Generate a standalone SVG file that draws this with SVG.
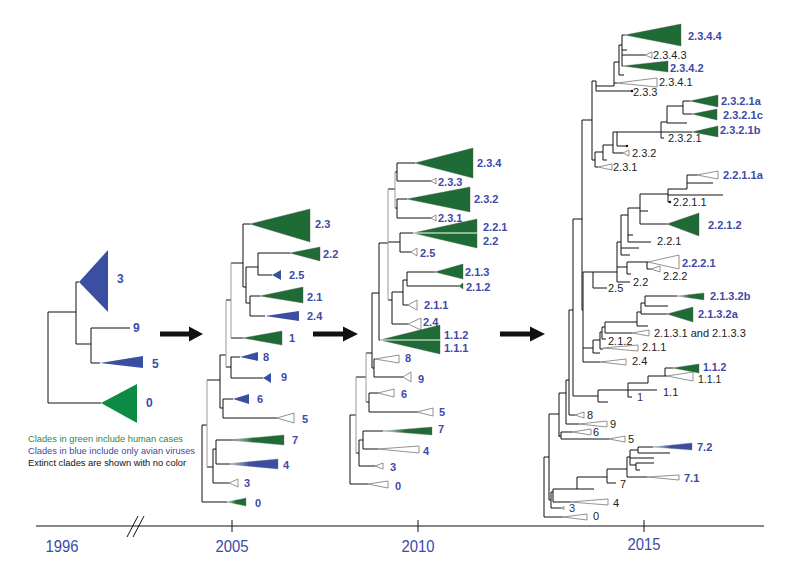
<svg xmlns="http://www.w3.org/2000/svg" width="794" height="563" viewBox="0 0 794 563">
<defs>
<linearGradient id="gG" x1="0" y1="0" x2="1" y2="0"><stop offset="0" stop-color="#e0e0e0"/><stop offset="0.45" stop-color="#1e6b36"/></linearGradient>
<linearGradient id="gB" x1="0" y1="0" x2="1" y2="0"><stop offset="0" stop-color="#e0e0e0"/><stop offset="0.45" stop-color="#3a4fa2"/></linearGradient>
<style>
.ln{fill:none;stroke:#111;stroke-width:1}
.lg{fill:none;stroke:#9a9a9a;stroke-width:1}
.gr{fill:#1e6b36;stroke:#555;stroke-width:0.4}
.gl{fill:#0d8a44}
.bl{fill:#3a4fa2}
.wh{fill:#fff;stroke:#777;stroke-width:0.8}
.gg{fill:url(#gG);stroke:#777;stroke-width:0.4}
.gb{fill:url(#gB);stroke:#777;stroke-width:0.4}
.b{font-family:"Liberation Sans",Arial,sans-serif;font-weight:bold;font-size:11px;fill:#3d4aa8}
.b12{font-family:"Liberation Sans",Arial,sans-serif;font-weight:bold;font-size:12px;fill:#3d4aa8}
.k{font-family:"Liberation Sans",Arial,sans-serif;font-size:11px;fill:#222}
.yr{font-family:"Liberation Sans",Arial,sans-serif;font-size:17px;fill:#3d4aa8}
.lgd{font-family:"Liberation Sans",Arial,sans-serif;font-size:9.5px}
.arr{fill:#111}
</style>
</defs>
<rect width="794" height="563" fill="#fff"/>

<!-- axis -->
<g id="axis">
<path class="ln" d="M36 526H764 M232 520V532 M418 520V532 M644 520V532" stroke-width="1.2"/>
<path class="ln" d="M127 537L138 516 M133 537L144 516"/>
<text class="yr" x="62" y="552" text-anchor="middle" textLength="33" lengthAdjust="spacingAndGlyphs">1996</text>
<text class="yr" x="232" y="552" text-anchor="middle" textLength="33" lengthAdjust="spacingAndGlyphs">2005</text>
<text class="yr" x="418" y="552" text-anchor="middle" textLength="33" lengthAdjust="spacingAndGlyphs">2010</text>
<text class="yr" x="644" y="550" text-anchor="middle" textLength="33" lengthAdjust="spacingAndGlyphs">2015</text>
</g>

<!-- legend -->
<g id="legend">
<text class="lgd" x="28" y="441.5" fill="#2a8a4a" textLength="155" lengthAdjust="spacingAndGlyphs">Clades in green include human cases</text>
<text class="lgd" x="28" y="453.5" fill="#3d4aa8" textLength="167" lengthAdjust="spacingAndGlyphs">Clades in blue include only avian viruses</text>
<text class="lgd" x="28" y="465.5" fill="#111" textLength="158" lengthAdjust="spacingAndGlyphs">Extinct clades are shown with no color</text>
</g>

<!-- arrows -->
<g id="arrows">
<path class="arr" d="M160 331.5H189V326.5L203 334L189 341.5V336.5H160Z"/>
<path class="arr" d="M313 331.5H343V326.5L358 334L343 341.5V336.5H313Z"/>
<path class="arr" d="M500 331.5H530V326.5L545 334L530 341.5V336.5H500Z"/>
</g>

<!-- connectors -->
<g id="connectors">
<path id="tree1996" class="ln" d="M48 312V403 M48 312H76 M76 282V344 M76 282H79 M76 344H91 M91 328V363 M91 328H130 M91 363H100 M48 403H101"/>
<path id="tree2005" class="ln" d="M202 425V502 M202 502H227 M202 425H207 M213 449V483 M213 483H229 M213 449H216 M216 440V464 M216 440H240 M216 464H230 M207 380H220 M220 355V408 M220 408H223 M223 399V418 M223 399H233 M223 418H277 M220 355H226 M226 367H231 M231 357V378 M231 357H240 M231 378H263 M226 300H231 M231 338H243 M231 263H243 M243 224V287 M243 224H250 M243 287H246 M246 267V303 M246 267H258 M258 253V275 M258 253H290 M258 275H272 M246 303H250 M250 296V316 M250 296H260 M250 316H265 M207 467H213"/>
<path class="lg" d="M207 380V467 M226 300V367 M231 263V338"/>
<path id="tree2010" class="ln" d="M350 415V484 M350 484H368 M350 415H356 M356 453H359 M359 440V466 M359 466H375 M359 440H363 M363 431V449 M363 431H383 M363 449H378 M356 377H366 M366 402H369 M369 393V412 M369 393H378 M369 412H417 M366 353H372 M372 368H374 M374 359V377 M374 359H375 M374 377H403 M372 293H379 M379 243V340 M379 340H380 M379 243H388 M388 189H395 M395 172H397 M397 163V181 M397 163H415 M397 181H431 M395 208H397 M397 199V218 M397 199H407 M397 218H431 M388 242H400 M400 233V252 M400 233H413 M400 252H411 M388 300H392 M392 292V324 M392 324H408 M392 292H403 M403 280V305 M403 305H408 M403 280H407 M407 272V286 M407 272H435 M407 286H459 M372 293V368"/>
<path class="lg" d="M356 377V453 M366 353V402 M388 189V300 M395 172V208"/>
<path id="tree2015" class="ln" d="M544 457V517 M544 517H563 M544 457H549 M549 414V500 M549 500H551 M551 492V508 M551 508H561 M551 492H553 M553 489V502 M553 502H570 M553 489H594 M577 477V489 M577 477H607 M607 469V483 M607 483H616 M607 469H627 M627 457V477 M627 477H647 M627 457H630 M630 450V465 M630 450H638 M638 447V453 M638 447H653 M638 453H670 M630 458H654 M630 465H636 M636 463V470 M636 463H654 M636 470H640 M549 414H559 M559 393V437 M559 436H561 M561 432V439 M561 432H572 M561 439H609 M559 393H566 M566 380V424 M566 424H579 M566 380H569 M569 310V415 M569 415H575 M569 310H573 M573 219V396 M573 396H598 M598 390V402 M598 390H628 M598 402H608 M628 383V397 M628 383H648 M628 390H657 M628 397H632 M648 376V383 M648 376H667 M665 368V376 M665 368H673 M573 219H582 M582 120V310 M582 310H583 M583 272V362 M583 362H600 M583 348H593 M593 340V353 M593 353H600 M593 340H600 M600 332V349 M600 349H603 M600 332H602 M602 327V339 M602 339H606 M602 327H605 M605 322V333 M605 333H632 M605 322H637 M637 312V326 M637 326H648 M637 312H641 M641 303V314 M641 314H667 M641 303H645 M645 296V306 M645 296H677 M645 306H668 M583 272H593 M593 272V288 M593 288H607 M593 272H617 M617 242V282 M617 282H630 M617 267H627 M627 262V274 M627 274H631 M627 262H648 M647 262V269 M647 269H651 M617 242H621 M621 215V255 M621 255H630 M621 248H639 M621 215H628 M628 208V242 M628 242H651 M628 235H633 M628 208H640 M640 194V224 M640 224H667 M640 211H648 M640 194H668 M668 189V202 M668 202H670 M668 195H723 M668 189H687 M687 175V189 M687 175H697 M687 183H713 M582 120H592 M592 81V160 M592 160H595 M595 152V167 M595 167H598 M595 152H603 M603 145V160 M603 160H607 M603 145H613 M613 132V153 M613 153H623 M617 132V146 M617 146H627 M613 132H692 M661 122V138 M661 138H664 M661 122H667 M667 106V123 M667 123H687 M667 106H683 M683 101V114 M683 101H690 M683 114H692 M592 81H596 M596 81V91 M596 91H632 M596 86H614 M614 62V86 M614 83H617 M614 62H619 M619 45V75 M619 75H624 M619 45H622 M622 35V66 M622 35H625 M622 50H627 M622 55H645 M622 66H623"/>
<circle cx="632" cy="91" r="1.2" fill="#111"/>
<circle cx="627" cy="146" r="1.2" fill="#111"/>
<circle cx="670" cy="202" r="1.2" fill="#111"/>
</g>

<!-- 1996 nodes -->
<g id="n1996_3"><polygon class="bl" points="79,282 108,250 108,312"/><text class="b12" x="117" y="283">3</text></g>
<g id="n1996_9"><text class="b12" x="133" y="332">9</text></g>
<g id="n1996_5"><polygon class="bl" points="100,363 143,356 143,368"/><text class="b12" x="152" y="368">5</text></g>
<g id="n1996_0"><polygon class="gl" points="101,403 137,384 137,423"/><text class="b12" x="146" y="407">0</text></g>

<!-- 2005 nodes -->
<g id="n2005_2_3"><polygon class="gr" points="250,224 310,209 310,242"/><text class="b" x="315" y="228">2.3</text></g>
<g id="n2005_2_2"><polygon class="gr" points="290,253 320,247 320,261"/><text class="b" x="323" y="258">2.2</text></g>
<g id="n2005_2_5"><polygon class="bl" points="272,275 281,270 281,280"/><text class="b" x="289" y="279">2.5</text></g>
<g id="n2005_2_1"><polygon class="gr" points="260,296 303,287 303,303"/><text class="b" x="307" y="301">2.1</text></g>
<g id="n2005_2_4"><polygon class="bl" points="265,316 299,311 299,321"/><text class="b" x="307" y="320">2.4</text></g>
<g id="n2005_1"><polygon class="gr" points="243,338 282,331 282,345"/><text class="b" x="289" y="342">1</text></g>
<g id="n2005_8"><polygon class="bl" points="240,357 258,352 258,361"/><text class="b" x="263" y="361">8</text></g>
<g id="n2005_9"><polygon class="bl" points="263,378 271,373 271,383"/><text class="b" x="281" y="381">9</text></g>
<g id="n2005_6"><polygon class="bl" points="233,399 249,394 249,404"/><text class="b" x="257" y="403">6</text></g>
<g id="n2005_5"><polygon class="wh" points="277,418 294,413 294,423"/><text class="b" x="302" y="423">5</text></g>
<g id="n2005_7"><polygon class="gg" points="228,440 284,435 284,445"/><text class="b" x="292" y="444">7</text></g>
<g id="n2005_4"><polygon class="gb" points="226,464 278,459 278,469"/><text class="b" x="283" y="469">4</text></g>
<g id="n2005_3"><polygon class="wh" points="229,483 238,479 238,487"/><text class="b" x="244" y="487">3</text></g>
<g id="n2005_0"><polygon class="gg" points="227,502 246,498 246,506"/><text class="b" x="255" y="507">0</text></g>

<!-- 2010 nodes -->
<g id="n2010_2_3_4"><polygon class="gr" points="415,163 473,148 473,178"/><text class="b" x="477" y="167">2.3.4</text></g>
<g id="n2010_2_3_3"><polygon class="wh" points="431,181 436,178 436,184"/><text class="b" x="438" y="186">2.3.3</text></g>
<g id="n2010_2_3_2"><polygon class="gr" points="407,199 470,187 470,212"/><text class="b" x="474" y="203">2.3.2</text></g>
<g id="n2010_2_3_1"><polygon class="wh" points="431,218 436,215 436,221"/><text class="b" x="438" y="222">2.3.1</text></g>
<g id="n2010_2_2"><polygon class="gr" points="413,233 477,219 477,248"/><line x1="413" y1="233" x2="477" y2="233" stroke="#fff" stroke-width="1"/><text class="b" x="483" y="231">2.2.1</text><text class="b" x="483" y="245">2.2</text></g>
<g id="n2010_2_5"><polygon class="wh" points="411,252 417,248 417,256"/><text class="b" x="420" y="257">2.5</text></g>
<g id="n2010_2_1_3"><polygon class="gr" points="435,272 463,264 463,279"/><text class="b" x="465" y="276">2.1.3</text></g>
<g id="n2010_2_1_2"><polygon class="gr" points="459,286 463,283 463,289"/><text class="b" x="466" y="291">2.1.2</text></g>
<g id="n2010_2_1_1"><polygon class="wh" points="408,305 417,300 417,310"/><text class="b" x="424" y="309">2.1.1</text></g>
<g id="n2010_2_4"><polygon class="wh" points="408,324 421,318 421,330"/><text class="b" x="423" y="326">2.4</text></g>
<g id="n2010_1_1"><polygon class="gr" points="380,340 440,325 440,354"/><line x1="380" y1="340" x2="440" y2="340" stroke="#fff" stroke-width="1"/><text class="b" x="444" y="339">1.1.2</text><text class="b" x="444" y="352">1.1.1</text></g>
<g id="n2010_8"><polygon class="wh" points="375,359 399,355 399,363"/><text class="b" x="405" y="362">8</text></g>
<g id="n2010_9"><polygon class="wh" points="403,377 411,372 411,382"/><text class="b" x="418" y="383">9</text></g>
<g id="n2010_6"><polygon class="wh" points="378,393 394,389 394,397"/><text class="b" x="401" y="398">6</text></g>
<g id="n2010_5"><polygon class="wh" points="417,412 433,408 433,416"/><text class="b" x="439" y="416">5</text></g>
<g id="n2010_7"><polygon class="gg" points="383,431 432,427 432,435"/><text class="b" x="438" y="433">7</text></g>
<g id="n2010_4"><polygon class="wh" points="378,449 419,446 419,453"/><text class="b" x="423" y="455">4</text></g>
<g id="n2010_3"><polygon class="wh" points="375,466 383,463 383,469"/><text class="b" x="390" y="471">3</text></g>
<g id="n2010_0"><polygon class="wh" points="368,484 388,481 388,488"/><text class="b" x="395" y="490">0</text></g>

<!-- 2015 nodes -->
<g id="n2015_2_3_4_4"><polygon class="gr" points="625,35 681,24 681,46"/><text class="b" x="688" y="40">2.3.4.4</text></g>
<g id="n2015_2_3_4_3"><polygon class="wh" points="645,55 652,52 652,58"/><text class="k" x="653" y="59">2.3.4.3</text></g>
<g id="n2015_2_3_4_2"><polygon class="gr" points="623,66 668,61 668,72"/><text class="b" x="670" y="72">2.3.4.2</text></g>
<g id="n2015_2_3_4_1"><polygon class="wh" points="617,83 657,78 657,87"/><text class="k" x="659" y="86">2.3.4.1</text></g>
<g id="n2015_2_3_3"><text class="k" x="633" y="96">2.3.3</text></g>
<g id="n2015_2_3_2_1a"><polygon class="gr" points="690,101 718,95 718,107"/><text class="b" x="721" y="105">2.3.2.1a</text></g>
<g id="n2015_2_3_2_1c"><polygon class="gr" points="692,114 717,109 717,120"/><text class="b" x="723" y="119">2.3.2.1c</text></g>
<g id="n2015_2_3_2_1b"><polygon class="gr" points="692,132 718,126 718,137"/><text class="b" x="720" y="134">2.3.2.1b</text></g>
<g id="n2015_2_3_2_1"><text class="k" x="668" y="142">2.3.2.1</text></g>
<g id="n2015_2_3_2"><polygon class="wh" points="623,153 629,150 629,156"/><text class="k" x="632" y="157">2.3.2</text></g>
<g id="n2015_2_3_1"><polygon class="wh" points="598,167 612,164 612,170"/><text class="k" x="613" y="171">2.3.1</text></g>
<g id="n2015_2_2_1_1a"><polygon class="wh" points="697,175 718,171 718,179"/><text class="b" x="723" y="179">2.2.1.1a</text></g>
<g id="n2015_2_2_1_1"><text class="k" x="673" y="206">2.2.1.1</text></g>
<g id="n2015_2_2_1_2"><polygon class="gr" points="667,224 699,213 699,236"/><text class="b" x="708" y="229">2.2.1.2</text></g>
<g id="n2015_2_2_1"><text class="k" x="657" y="245">2.2.1</text></g>
<g id="n2015_2_2_2_1"><polygon class="wh" points="648,262 679,255 679,269"/><text class="b" x="682" y="267">2.2.2.1</text></g>
<g id="n2015_2_2_2"><polygon class="wh" points="651,269 660,266 660,272"/><text class="k" x="663" y="280">2.2.2</text></g>
<g id="n2015_2_2"><text class="k" x="633" y="286">2.2</text></g>
<g id="n2015_2_5"><text class="k" x="608" y="292">2.5</text></g>
<g id="n2015_2_1_3_2b"><polygon class="gg" points="677,296 704,293 704,300"/><text class="b" x="710" y="300">2.1.3.2b</text></g>
<g id="n2015_2_1_3_2a"><polygon class="gr" points="667,314 693,307 693,322"/><text class="b" x="698" y="318">2.1.3.2a</text></g>
<g id="n2015_2_1_3_1"><polygon class="wh" points="632,333 649,330 649,336"/><text class="k" x="654" y="337">2.1.3.1 and 2.1.3.3</text></g>
<g id="n2015_2_1_2"><text class="k" x="608" y="345">2.1.2</text></g>
<g id="n2015_2_1_1"><polygon class="wh" points="603,348 638,345 638,351"/><text class="k" x="642" y="351">2.1.1</text></g>
<g id="n2015_2_4"><polygon class="wh" points="600,362 626,359 626,365"/><text class="k" x="632" y="365">2.4</text></g>
<g id="n2015_1_1_2"><polygon class="gr" points="673,368 699,364 699,373"/><text class="b" x="703" y="371" style="font-size:10.5px">1.1.2</text></g>
<g id="n2015_1_1_1"><polygon class="wh" points="667,376 693,372 693,381"/><text class="k" x="698" y="383" style="font-size:10.5px">1.1.1</text></g>
<g id="n2015_1_1"><text class="k" x="663" y="396">1.1</text></g>
<g id="n2015_1"><text class="k" x="637" y="401" style="fill:#5a1d5e">1</text></g>
<g id="n2015_8"><polygon class="wh" points="575,415 584,412 584,418"/><text class="k" x="587" y="419">8</text></g>
<g id="n2015_9"><polygon class="wh" points="579,424 607,421 607,427"/><text class="k" x="610" y="428">9</text></g>
<g id="n2015_6"><polygon class="wh" points="572,432 591,429 591,435"/><text class="k" x="593" y="436">6</text></g>
<g id="n2015_5"><polygon class="wh" points="609,439 625,436 625,442"/><text class="k" x="628" y="443">5</text></g>
<g id="n2015_7_2"><polygon class="gb" points="653,447 692,443 692,450"/><text class="b" x="697" y="451">7.2</text></g>
<g id="n2015_7_1"><polygon class="wh" points="647,477 679,475 679,480"/><text class="b" x="684" y="482">7.1</text></g>
<g id="n2015_7"><text class="k" x="620" y="488">7</text></g>
<g id="n2015_4"><polygon class="wh" points="570,502 608,499 608,505"/><text class="k" x="613" y="507">4</text></g>
<g id="n2015_3"><polygon class="wh" points="561,508 564,506.5 564,509.5"/><text class="k" x="569" y="512" style="fill:#2a2f6a">3</text></g>
<g id="n2015_0"><polygon class="wh" points="563,517 587,514 587,520"/><text class="k" x="593" y="520">0</text></g>
</svg>
